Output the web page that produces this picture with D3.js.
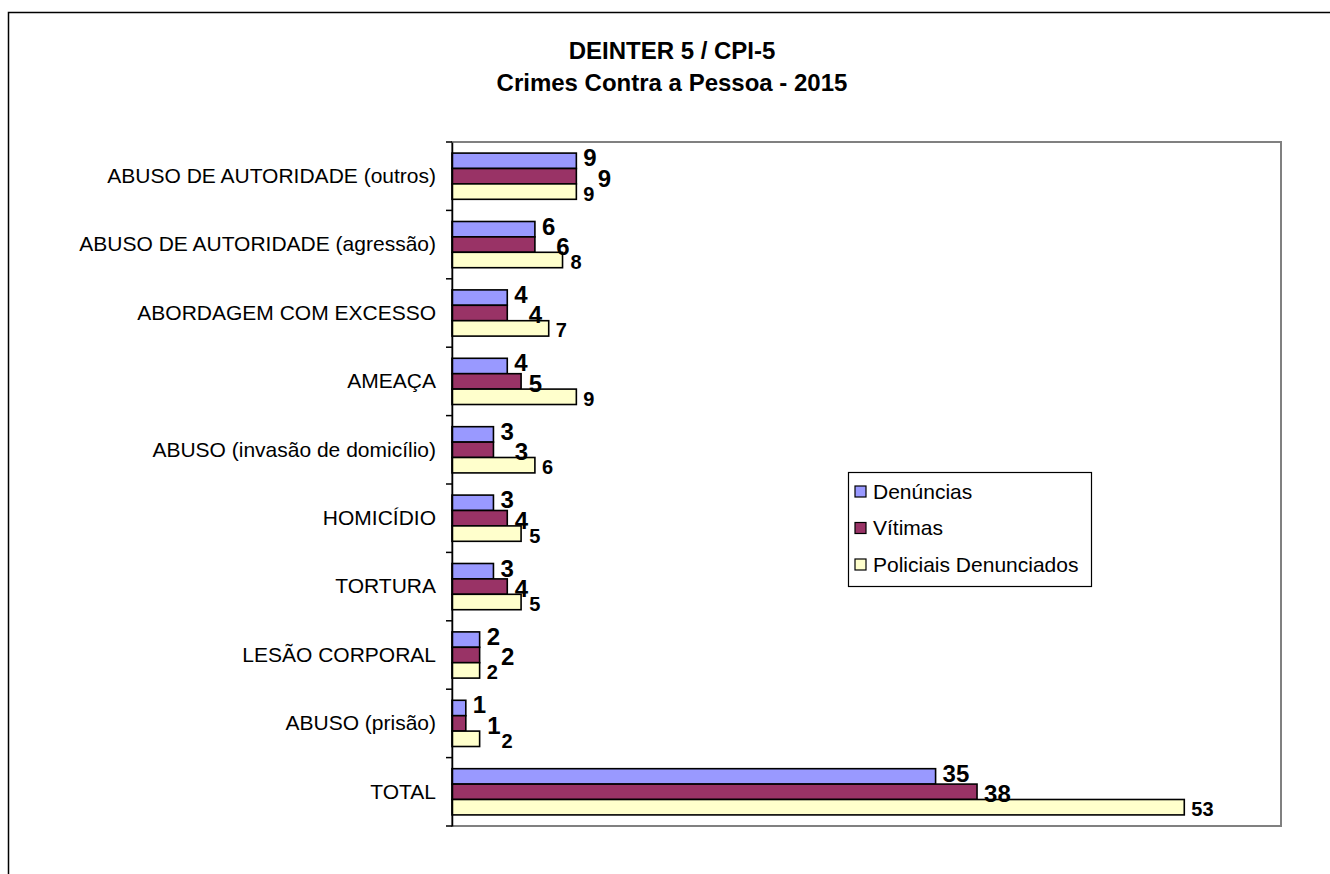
<!DOCTYPE html>
<html>
<head>
<meta charset="utf-8">
<script src="https://cdn.jsdelivr.net/npm/d3@7"></script>
<style>
  html, body { margin: 0; padding: 0; background: #fff; }
  svg { display: block; font-family: "Liberation Sans", Arial, sans-serif; }
</style>
</head>
<body>
<svg id="chart" width="1330" height="874"></svg>
<script>
const categories = [
  "ABUSO DE AUTORIDADE (outros)",
  "ABUSO DE AUTORIDADE (agressão)",
  "ABORDAGEM COM EXCESSO",
  "AMEAÇA",
  "ABUSO (invasão de domicílio)",
  "HOMICÍDIO",
  "TORTURA",
  "LESÃO CORPORAL",
  "ABUSO (prisão)",
  "TOTAL"
];
const seriesNames = ["Denúncias", "Vítimas", "Policiais Denunciados"];
const denuncias = [9, 6, 4, 4, 3, 3, 3, 2, 1, 35];
const vitimas   = [9, 6, 4, 5, 3, 4, 4, 2, 1, 38];
const policiais = [9, 8, 7, 9, 6, 5, 5, 2, 2, 53];
const seriesColors = ["#9999FF", "#993366", "#FFFFCC"];
const titleLines = ["DEINTER 5 / CPI-5", "Crimes Contra a Pessoa - 2015"];

const seriesValues = [denuncias, vitimas, policiais];
const rows = categories.map((c, i) => ({
  cat: c,
  vals: seriesNames.map((s, j) => ({ series: s, idx: j, value: seriesValues[j][i] }))
}));

const svg = d3.select("#chart");

// outer frame
svg.append("rect").attr("x", 8.5).attr("y", 12.5).attr("width", 1340).attr("height", 900)
  .attr("fill", "#fff").attr("stroke", "#000").attr("stroke-width", 1.5);

const plot = { left: 452, top: 142, right: 1281, bottom: 826 };

const x = d3.scaleLinear().domain([0, 60]).range([plot.left, plot.right]);
const y = d3.scaleBand().domain(categories).range([plot.top, plot.bottom]).padding(0);
const yInner = d3.scaleBand().domain(seriesNames).range([0, y.bandwidth()])
  .paddingInner(0).paddingOuter(0.72);

// plot area border (gray)
svg.append("rect").attr("x", plot.left).attr("y", plot.top)
  .attr("width", plot.right - plot.left).attr("height", plot.bottom - plot.top)
  .attr("fill", "#fff").attr("stroke", "#808080").attr("stroke-width", 2);

// title
const title = svg.append("text").attr("text-anchor", "middle")
  .attr("font-weight", "bold").attr("font-size", 24).attr("fill", "#000");
titleLines.forEach((t, i) => {
  title.append("tspan").attr("x", 672).attr("y", 59 + i * 32).text(t);
});

// bars
const groups = svg.append("g").selectAll("g").data(rows).join("g")
  .attr("transform", d => `translate(0,${y(d.cat)})`);

groups.selectAll("rect").data(d => d.vals).join("rect")
  .attr("x", x(0))
  .attr("y", d => yInner(d.series))
  .attr("width", d => x(d.value) - x(0))
  .attr("height", yInner.bandwidth())
  .attr("fill", d => seriesColors[d.idx])
  .attr("stroke", "#000").attr("stroke-width", 1.6);

// value labels (simple collision push to the right, like the spreadsheet layout)
const labelStyle = [
  { size: 24, dy: -3 },
  { size: 24, dy: 2 },
  { size: 20, dy: 2 }
];
groups.each(function (row) {
  const g = d3.select(this);
  const placed = [];
  row.vals.forEach(d => {
    const st = labelStyle[d.idx];
    const cy = yInner(d.series) + yInner.bandwidth() / 2 + st.dy;
    const t = g.append("text")
      .attr("class", "val")
      .attr("y", cy)
      .attr("dominant-baseline", "central")
      .attr("font-weight", "bold")
      .attr("font-size", st.size)
      .attr("fill", "#000")
      .text(d.value);
    const w = t.node().getComputedTextLength();
    const h = st.size;
    let lx = x(d.value) + 7;
    placed.forEach(p => {
      const vOverlap = Math.abs(p.cy - cy) < (p.h + h) / 2;
      if (vOverlap && lx < p.x + p.w + 1 && lx + w > p.x - 1) lx = p.x + p.w + 1;
    });
    t.attr("x", lx);
    placed.push({ x: lx, w: w, cy: cy, h: h });
  });
});

// y axis
const yAxis = d3.axisLeft(y).tickSize(0).tickPadding(16);
const ax = svg.append("g").attr("transform", `translate(${plot.left},0)`).call(yAxis);
ax.select(".domain").attr("stroke", "#000").attr("stroke-width", 1.5);
ax.selectAll(".tick text").attr("font-size", 21).attr("fill", "#000")
  .attr("font-family", "'Liberation Sans', Arial, sans-serif");
// boundary tick marks
const bounds = categories.map(c => y(c)).concat([plot.bottom]);
ax.selectAll("line.bound").data(bounds).join("line").attr("class", "bound")
  .attr("x1", -6).attr("x2", 0).attr("y1", d => d).attr("y2", d => d)
  .attr("stroke", "#000").attr("stroke-width", 1.5);

// legend
const lg = svg.append("g").attr("transform", "translate(848,472)");
lg.append("rect").attr("x", 0.5).attr("y", 0.5).attr("width", 243).attr("height", 114)
  .attr("fill", "#fff").attr("stroke", "#000").attr("stroke-width", 1.2);
const li = lg.selectAll("g.item").data(seriesNames).join("g").attr("class", "item")
  .attr("transform", (d, i) => `translate(7,${19 + i * 36.5})`);
li.append("rect").attr("x", 0).attr("y", -5).attr("width", 11).attr("height", 11)
  .attr("fill", (d, i) => seriesColors[i]).attr("stroke", "#000").attr("stroke-width", 1.2);
li.append("text").attr("x", 18).attr("y", 0).attr("dominant-baseline", "central")
  .attr("font-size", 21).attr("fill", "#000").text(d => d);
</script>
</body>
</html>
